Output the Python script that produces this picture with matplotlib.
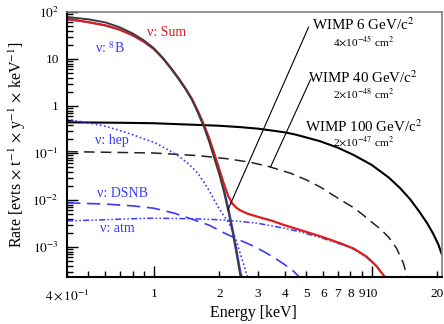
import matplotlib
matplotlib.use("Agg")
import matplotlib.pyplot as plt
from matplotlib.ticker import FixedLocator, NullFormatter

plt.rcParams['font.family'] = ['Liberation Serif', 'DejaVu Serif']
plt.rcParams['mathtext.fontset'] = 'stix'

# values (energy in keV, rate in evts/t/y/keV)
e_wimp6 = [0.4, 0.5, 0.6, 0.7, 0.8, 0.9, 1.0, 1.1, 1.2, 1.3, 1.4, 1.5, 1.6, 1.7, 1.8,
           1.9, 2.0, 2.1, 2.2, 2.3, 2.4, 2.5]
r_wimp6 = [78, 70, 60, 47, 35, 25, 17, 10.5, 6.3, 3.8, 2.3, 1.35, 0.7, 0.36, 0.17,
           0.075, 0.035, 0.015, 0.0058, 0.0021, 0.00072, 0.00024]

e_sum = [0.4, 0.5, 0.6, 0.7, 0.8, 0.9, 1.0, 1.1, 1.2, 1.3, 1.4, 1.5, 1.6, 1.7, 1.8, 1.9,
         2.0, 2.1, 2.2, 2.3, 2.4, 2.5, 2.7, 3.0, 3.5, 4.0, 4.7, 5.8, 7.2, 8.3, 9.5, 10.5, 11.6]
r_sum = [71, 61, 52, 42, 32, 23.5, 16.5, 10.5, 6.4, 3.9, 2.35, 1.4, 0.75, 0.40, 0.20, 0.095,
         0.045, 0.022, 0.012, 0.0083, 0.0068, 0.006, 0.0051, 0.0044, 0.0036, 0.0029, 0.0023,
         0.0017, 0.0012, 0.00092, 0.00062, 0.0004, 0.00022]

e_b8 = [0.4, 0.5, 0.6, 0.7, 0.8, 0.9, 1.0, 1.1, 1.2, 1.3, 1.4, 1.5, 1.6, 1.7, 1.8, 1.9,
        2.0, 2.1, 2.2, 2.3, 2.4, 2.5, 2.55]
r_b8 = [70.5, 60.6, 51.6, 41.7, 31.8, 23.3, 16.3, 10.4, 6.3, 3.8, 2.3, 1.35, 0.72, 0.38,
        0.19, 0.088, 0.040, 0.017, 0.0068, 0.0025, 0.00088, 0.0003, 0.00021]

e_hep = [0.4, 0.5, 0.6, 0.7, 0.8, 0.9, 1.0, 1.1, 1.2, 1.3, 1.4, 1.5, 1.6, 1.7, 1.8, 1.9,
         2.0, 2.1, 2.2, 2.3, 2.4, 2.5, 2.6, 2.7]
r_hep = [0.52, 0.44, 0.37, 0.30, 0.245, 0.20, 0.17, 0.135, 0.108, 0.086, 0.066, 0.05,
         0.036, 0.024, 0.0155, 0.0098, 0.0065, 0.0046, 0.0034, 0.0022, 0.0013, 0.0007,
         0.0004, 0.00022]

e_dsnb = [0.4, 0.6, 0.8, 1.0, 1.25, 1.5, 1.8, 2.1, 2.4, 2.8, 3.2, 3.6, 4.0, 4.4, 4.7]
r_dsnb = [0.0087, 0.0082, 0.0075, 0.0067, 0.0052, 0.0039, 0.0029, 0.0020, 0.0015, 0.0011,
          0.0008, 0.00058, 0.00042, 0.0003, 0.00022]

e_atm = [0.4, 0.6, 0.8, 1.0, 1.5, 2.0, 2.5, 3.0, 3.5, 4.0, 4.7, 5.8, 7.2, 8.3, 9.5, 10.5, 11.6]
r_atm = [0.0036, 0.0038, 0.0040, 0.0041, 0.0040, 0.0038, 0.0035, 0.0032, 0.0028, 0.0025,
         0.0021, 0.0016, 0.00115, 0.0009, 0.0006, 0.00039, 0.00022]

e_wimp40 = [0.4, 1.0, 1.6, 2.2, 2.8, 3.4, 4.25, 5.0, 5.8, 6.6, 7.5, 8.3, 9.2, 10, 11, 12,
            13, 14, 14.6]
r_wimp40 = [0.107, 0.100, 0.088, 0.075, 0.063, 0.051, 0.037, 0.027, 0.019, 0.013, 0.009,
            0.0068, 0.0047, 0.0034, 0.0024, 0.0016, 0.00095, 0.00045, 0.00022]

e_wimp100 = [0.4, 0.7, 1.0, 1.5, 2.0, 2.5, 3.0, 3.5, 4.0, 4.5, 5.0, 5.8, 7.0, 8.3, 10, 12,
             13.5, 15, 16.5, 18, 19.2, 20.3, 21]
r_wimp100 = [0.45, 0.44, 0.43, 0.40, 0.38, 0.355, 0.33, 0.30, 0.275, 0.245, 0.215, 0.178,
             0.13, 0.09, 0.056, 0.030, 0.018, 0.0105, 0.0058, 0.0032, 0.0019, 0.0011, 0.0007]

blue = '#3a3aff'
red = '#dd1c1c'

fig = plt.figure(figsize=(4.44, 3.24), dpi=100)
ax = fig.add_axes([0.151, 0.145, 0.844, 0.818])

ax.plot(e_wimp100, r_wimp100, color='black', lw=1.5)
ax.plot(e_wimp40, r_wimp40, color='#222222', lw=1.1, dashes=(7, 4))
ax.plot(e_dsnb, r_dsnb, color=blue, lw=1.2, dashes=(8, 4))
ax.plot(e_atm, r_atm, color=blue, lw=1.1, dashes=(4, 1.5, 1, 1.5, 1, 1.5))
ax.plot(e_hep, r_hep, color=blue, lw=1.2, linestyle=(0, (1, 1.5)))
ax.plot(e_b8, r_b8, color=blue, lw=1.3)
ax.plot(e_sum, r_sum, color=red, lw=1.6)
ax.plot(e_wimp6, r_wimp6, color='#3c3c3c', lw=1.4)

# pointer lines for the WIMP labels
ax.plot([5.14, 2.19], [47.8, 0.0062], color='black', lw=0.8)
ax.plot([5.25, 3.44], [3.7, 0.051], color='black', lw=0.8)

ax.set_xscale('log')
ax.set_yscale('log')
ax.set_xlim(0.4, 21)
ax.set_ylim(2.3e-4, 100)

# x ticks
ax.set_xticks([1, 10], ['1', '10'])
minor_x = [0.4, 0.5, 0.6, 0.7, 0.8, 0.9, 2, 3, 4, 5, 6, 7, 8, 9, 20]
minor_lab = [r'$4\times10^{-1}$', '', '', '', '', '', '2', '3', '4', '5', '6', '7', '8', '9', '20']
ax.set_xticks(minor_x, minor_lab, minor=True)

# y ticks
ax.set_yticks([1e-3, 1e-2, 1e-1, 1, 10, 100],
              [r'$10^{-3}$', r'$10^{-2}$', r'$10^{-1}$', '1', '10', r'$10^{2}$'])
minor_y = [m * 10.0 ** k for k in range(-4, 2) for m in range(2, 10)]
ax.yaxis.set_minor_locator(FixedLocator(minor_y))
ax.yaxis.set_minor_formatter(NullFormatter())

ax.tick_params(which='both', direction='in', labelsize=9.5, width=1.0, pad=6)
ax.tick_params(which='major', length=8)
ax.tick_params(which='minor', length=4)
ax.tick_params(axis='x', which='both', pad=8)

for s in ['left', 'bottom']:
    ax.spines[s].set_linewidth(1.5)
for s in ['top', 'right']:
    ax.spines[s].set_color('#808080')
    ax.spines[s].set_linewidth(1.2)

fig.text(0.570, 0.034, 'Energy [keV]', fontsize=11.5, ha='center', va='center')
fig.text(0.040, 0.555, r'Rate [evts $\times$ t$^{-1}$ $\times$ y$^{-1}$ $\times$ keV$^{-1}$]',
         fontsize=11.5, rotation=90, ha='center', va='center')

# neutrino labels
fig.text(0.331, 0.901, r'ν: Sum', color=red, fontsize=10, va='center')
fig.text(0.214, 0.852, r'ν: $^{8}$B', color=blue, fontsize=10, va='center')
fig.text(0.214, 0.565, r'ν: hep', color=blue, fontsize=10, va='center')
fig.text(0.218, 0.404, r'ν: DSNB', color=blue, fontsize=10, va='center')
fig.text(0.225, 0.296, r'ν: atm', color=blue, fontsize=10, va='center')

# WIMP labels
wimp_title = [r'WIMP 6 GeV/c$^{2}$', r'WIMP 40 GeV/c$^{2}$', r'WIMP 100 GeV/c$^{2}$']
wimp_xs = [r'4$\times$10$^{-45}$ cm$^{2}$', r'2$\times$10$^{-48}$ cm$^{2}$',
           r'2$\times$10$^{-47}$ cm$^{2}$']
ty = [0.923, 0.759, 0.608]
sy = [0.870, 0.710, 0.562]
for t, s, y1, y2 in zip(wimp_title, wimp_xs, ty, sy):
    fig.text(0.818, y1, t, fontsize=10.8, ha='center', va='center')
    fig.text(0.818, y2, s, fontsize=8.2, ha='center', va='center')

fig.savefig('out.png', dpi=100)
